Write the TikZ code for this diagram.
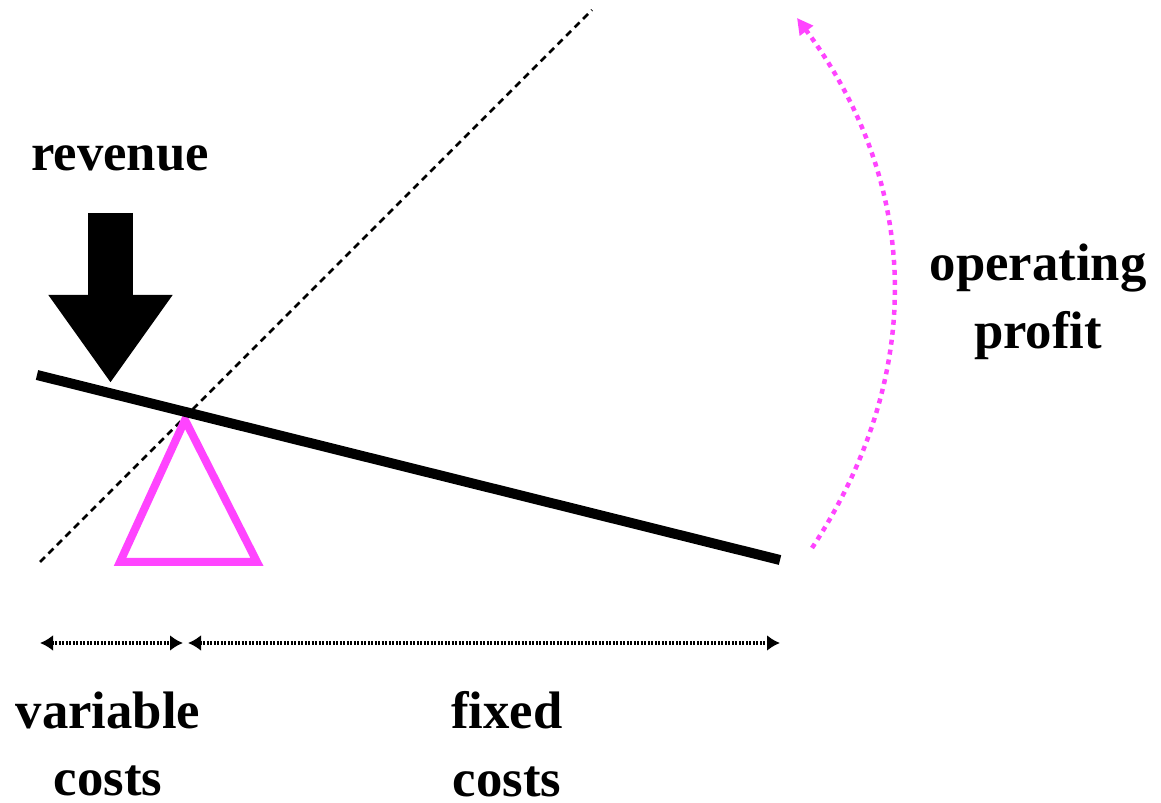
\documentclass[tikz,border=0pt]{standalone}
\usepackage{fontspec}
\setmainfont{Liberation Serif}
\usepackage{xcolor}
\usetikzlibrary{arrows.meta,positioning}
\definecolor{Pivot}{HTML}{FF44FF}
\definecolor{Ink}{HTML}{000000}

\begin{document}
\begin{tikzpicture}[
  label/.style={align=center,font=\fontsize{15}{19.3}\selectfont\bfseries,text=Ink,inner sep=0pt},
  beam/.style={draw=Ink,line width=0.1cm},
  guide/.style={draw=Ink,line width=0.025cm,dash pattern=on 0.07cm off 0.05cm},
  fulcrum/.style={draw=Pivot,line width=0.08cm,fill=white},
  span/.style={draw=Ink,line width=0.035cm,dash pattern=on 0.02cm off 0.015cm,{Latex[length=0.13cm,width=0.16cm]}-{Latex[length=0.13cm,width=0.16cm]}},
  swing/.style={draw=Pivot,line width=0.045cm,dash pattern=on 0.05cm off 0.05cm,-{Triangle[length=0.16cm,width=0.16cm]}},
  push/.style={draw=Ink,line width=0.45cm,-{Triangle[length=0.88cm,width=1.18cm]}}
]
\useasboundingbox (0,0) rectangle (11.61,8.03);
% labels
\node[label] (revenue) at (1.20,6.45) {revenue};
\node[label] (profit) at (10.38,5.01) {operating\\profit};
\node[label] (varcost) at (1.08,0.59) {variable\\costs};
\node[label] (fixcost) at (5.07,0.59) {fixed\\costs};
% points
\coordinate (beamL) at (0.37,4.28);
\coordinate (beamR) at (7.80,2.43);
\coordinate (pivot) at (1.85,3.83);
\coordinate (triL) at (1.20,2.41);
\coordinate (triR) at (2.57,2.41);
\coordinate (guideA) at (0.40,2.41);
\coordinate (guideB) at (5.92,7.93);
\coordinate (arcA) at (8.12,2.55);
\coordinate (arcB) at (7.97,7.85);
\coordinate (pushTop) at (1.105,5.90);
\coordinate (pushTip) at (1.105,4.20);
\coordinate (spanL) at (0.40,1.60);
\coordinate (spanM1) at (1.83,1.60);
\coordinate (spanM2) at (1.88,1.60);
\coordinate (spanR) at (7.80,1.60);
% drawing
\draw[guide] (guideA) -- (guideB);
\draw[fulcrum] (pivot) -- (triR) -- (triL) -- cycle;
\draw[beam] (beamL) -- (beamR);
\draw[push] (pushTop) -- (pushTip);
\draw[swing] (arcA) to[bend right=35] (arcB);
\draw[span] (spanL) -- (spanM1);
\draw[span] (spanM2) -- (spanR);
\end{tikzpicture}
\end{document}
